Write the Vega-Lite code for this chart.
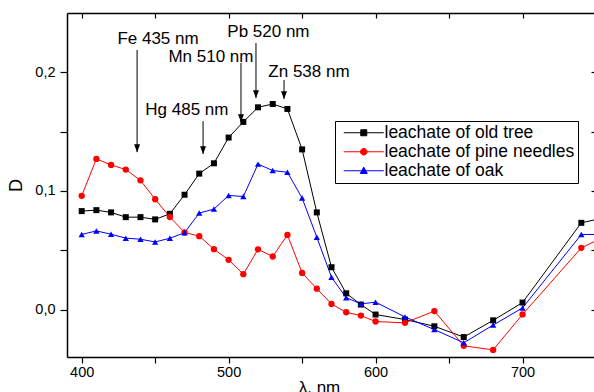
{
  "$schema": "https://vega.github.io/schema/vega-lite/v6.json",
  "width": 529,
  "height": 344,
  "autosize": {"type": "none"},
  "padding": {"left": 67, "top": 13, "right": 0, "bottom": 35},
  "background": "white",
  "config": {
    "view": {"stroke": null},
    "font": "Liberation Sans",
    "axis": {"grid": false, "domainColor": "black", "tickColor": "black", "labelColor": "black", "titleColor": "black", "labelFont": "Liberation Sans", "titleFont": "Liberation Sans", "titleFontWeight": "normal", "domainWidth": 1.5, "tickWidth": 1.2}
  },
  "datasets": {
    "spectra": [
      {"series": "leachate of old tree", "nm": 400, "D": 0.0830},
      {"series": "leachate of old tree", "nm": 410, "D": 0.0838},
      {"series": "leachate of old tree", "nm": 420, "D": 0.0819},
      {"series": "leachate of old tree", "nm": 430, "D": 0.0779},
      {"series": "leachate of old tree", "nm": 440, "D": 0.0779},
      {"series": "leachate of old tree", "nm": 450, "D": 0.0760},
      {"series": "leachate of old tree", "nm": 460, "D": 0.0807},
      {"series": "leachate of old tree", "nm": 470, "D": 0.0968},
      {"series": "leachate of old tree", "nm": 480, "D": 0.1146},
      {"series": "leachate of old tree", "nm": 490, "D": 0.1233},
      {"series": "leachate of old tree", "nm": 500, "D": 0.1450},
      {"series": "leachate of old tree", "nm": 510, "D": 0.1582},
      {"series": "leachate of old tree", "nm": 520, "D": 0.1705},
      {"series": "leachate of old tree", "nm": 530, "D": 0.1733},
      {"series": "leachate of old tree", "nm": 540, "D": 0.1691},
      {"series": "leachate of old tree", "nm": 550, "D": 0.1350},
      {"series": "leachate of old tree", "nm": 560, "D": 0.0819},
      {"series": "leachate of old tree", "nm": 570, "D": 0.0357},
      {"series": "leachate of old tree", "nm": 580, "D": 0.0137},
      {"series": "leachate of old tree", "nm": 590, "D": 0.0042},
      {"series": "leachate of old tree", "nm": 600, "D": -0.0042},
      {"series": "leachate of old tree", "nm": 620, "D": -0.0084},
      {"series": "leachate of old tree", "nm": 640, "D": -0.0141},
      {"series": "leachate of old tree", "nm": 660, "D": -0.0232},
      {"series": "leachate of old tree", "nm": 680, "D": -0.0091},
      {"series": "leachate of old tree", "nm": 700, "D": 0.0059},
      {"series": "leachate of old tree", "nm": 740, "D": 0.0731},
      {"series": "leachate of old tree", "nm": 760, "D": 0.0786},
      {"series": "leachate of pine needles", "nm": 400, "D": 0.0959},
      {"series": "leachate of pine needles", "nm": 410, "D": 0.1270},
      {"series": "leachate of pine needles", "nm": 420, "D": 0.1219},
      {"series": "leachate of pine needles", "nm": 430, "D": 0.1180},
      {"series": "leachate of pine needles", "nm": 440, "D": 0.1089},
      {"series": "leachate of pine needles", "nm": 450, "D": 0.0930},
      {"series": "leachate of pine needles", "nm": 460, "D": 0.0780},
      {"series": "leachate of pine needles", "nm": 470, "D": 0.0650},
      {"series": "leachate of pine needles", "nm": 480, "D": 0.0619},
      {"series": "leachate of pine needles", "nm": 490, "D": 0.0509},
      {"series": "leachate of pine needles", "nm": 500, "D": 0.0419},
      {"series": "leachate of pine needles", "nm": 510, "D": 0.0298},
      {"series": "leachate of pine needles", "nm": 520, "D": 0.0508},
      {"series": "leachate of pine needles", "nm": 530, "D": 0.0447},
      {"series": "leachate of pine needles", "nm": 540, "D": 0.0629},
      {"series": "leachate of pine needles", "nm": 550, "D": 0.0309},
      {"series": "leachate of pine needles", "nm": 560, "D": 0.0176},
      {"series": "leachate of pine needles", "nm": 570, "D": 0.0047},
      {"series": "leachate of pine needles", "nm": 580, "D": -0.0023},
      {"series": "leachate of pine needles", "nm": 590, "D": -0.0051},
      {"series": "leachate of pine needles", "nm": 600, "D": -0.0101},
      {"series": "leachate of pine needles", "nm": 620, "D": -0.0112},
      {"series": "leachate of pine needles", "nm": 640, "D": -0.0013},
      {"series": "leachate of pine needles", "nm": 660, "D": -0.0306},
      {"series": "leachate of pine needles", "nm": 680, "D": -0.0340},
      {"series": "leachate of pine needles", "nm": 700, "D": -0.0041},
      {"series": "leachate of pine needles", "nm": 740, "D": 0.0520},
      {"series": "leachate of pine needles", "nm": 760, "D": 0.0640},
      {"series": "leachate of oak", "nm": 400, "D": 0.0633},
      {"series": "leachate of oak", "nm": 410, "D": 0.0663},
      {"series": "leachate of oak", "nm": 420, "D": 0.0635},
      {"series": "leachate of oak", "nm": 430, "D": 0.0602},
      {"series": "leachate of oak", "nm": 440, "D": 0.0593},
      {"series": "leachate of oak", "nm": 450, "D": 0.0570},
      {"series": "leachate of oak", "nm": 460, "D": 0.0601},
      {"series": "leachate of oak", "nm": 470, "D": 0.0648},
      {"series": "leachate of oak", "nm": 480, "D": 0.0813},
      {"series": "leachate of oak", "nm": 490, "D": 0.0847},
      {"series": "leachate of oak", "nm": 500, "D": 0.0962},
      {"series": "leachate of oak", "nm": 510, "D": 0.0953},
      {"series": "leachate of oak", "nm": 520, "D": 0.1226},
      {"series": "leachate of oak", "nm": 530, "D": 0.1172},
      {"series": "leachate of oak", "nm": 540, "D": 0.1157},
      {"series": "leachate of oak", "nm": 550, "D": 0.0940},
      {"series": "leachate of oak", "nm": 560, "D": 0.0610},
      {"series": "leachate of oak", "nm": 570, "D": 0.0272},
      {"series": "leachate of oak", "nm": 580, "D": 0.0100},
      {"series": "leachate of oak", "nm": 590, "D": 0.0048},
      {"series": "leachate of oak", "nm": 600, "D": 0.0062},
      {"series": "leachate of oak", "nm": 620, "D": -0.0062},
      {"series": "leachate of oak", "nm": 640, "D": -0.0169},
      {"series": "leachate of oak", "nm": 660, "D": -0.0280},
      {"series": "leachate of oak", "nm": 680, "D": -0.0131},
      {"series": "leachate of oak", "nm": 700, "D": 0.0014},
      {"series": "leachate of oak", "nm": 740, "D": 0.0633},
      {"series": "leachate of oak", "nm": 760, "D": 0.0633}
    ],
    "arrows": [
      {"label": "Fe 435 nm", "nm": 437.7, "D": 0.2188, "D2": 0.1327},
      {"label": "Hg 485 nm", "nm": 482.6, "D": 0.1589, "D2": 0.1311},
      {"label": "Mn 510 nm", "nm": 508.4, "D": 0.2078, "D2": 0.1581},
      {"label": "Pb 520 nm", "nm": 518.6, "D": 0.2247, "D2": 0.1783},
      {"label": "Zn 538 nm", "nm": 537.7, "D": 0.1935, "D2": 0.1775}
    ],
    "labels": [
      {"label": "Fe 435 nm", "nm": 424.3, "D": 0.2241},
      {"label": "Hg 485 nm", "nm": 443.3, "D": 0.1639},
      {"label": "Mn 510 nm", "nm": 459.0, "D": 0.2089},
      {"label": "Pb 520 nm", "nm": 499.1, "D": 0.2300},
      {"label": "Zn 538 nm", "nm": 527.0, "D": 0.1963}
    ]
  },
  "layer": [
    {
      "data": {"name": "spectra"},
      "mark": {"type": "line", "strokeWidth": 1, "clip": true},
      "encoding": {
        "x": {"field": "nm", "type": "quantitative", "scale": {"domain": [390, 750], "nice": false, "zero": false},
          "axis": {"orient": "bottom", "title": "λ, nm", "values": [400, 450, 500, 550, 600, 650, 700, 750], "format": "d", "labelExpr": "datum.value % 100 == 0 ? datum.label : ''", "tickSize": 6, "labelFontSize": 14.5, "labelPadding": 2, "titleFontSize": 17, "titlePadding": 1, "titleX": 252}},
        "y": {"field": "D", "type": "quantitative", "scale": {"domain": [-0.04, 0.25], "nice": false, "zero": false},
          "axis": {"orient": "left", "title": "D", "values": [0, 0.05, 0.1, 0.15, 0.2], "labelExpr": "round(datum.value * 20) % 2 == 0 ? replace(format(datum.value, '.1f'), '.', ',') : ''", "tickSize": 7, "labelFontSize": 14.5, "labelPadding": 5, "titleFontSize": 18, "titlePadding": 9}},
        "color": {"field": "series", "type": "nominal",
          "scale": {"domain": ["leachate of old tree", "leachate of pine needles", "leachate of oak"], "range": ["#000000", "#ff0000", "#0000ff"]},
          "legend": {"orient": "none", "legendX": 268, "legendY": 108, "title": null, "strokeColor": "black", "padding": 3, "labelFont": "Liberation Sans", "labelFontSize": 17.5, "labelColor": "black", "labelLimit": 400, "rowPadding": 0, "symbolSize": 36, "labelOffset": 29, "symbolStrokeWidth": 1, "symbolOpacity": 1,
            "encode": {"symbols": {"update": {
              "shape": {"signal": "datum.value == 'leachate of old tree' ? 'M-1,0H12.33M4.67,-1H6.67V1H4.67Z' : datum.value == 'leachate of pine needles' ? 'M-1,0H12.33M4.57,0A1.1,1.1 0 1,0 6.77,0A1.1,1.1 0 1,0 4.57,0Z' : 'M-1,0H12.33M4.5,0.9L6.83,0.9L5.67,-1.2Z'"}
            }}}}
        }
      }
    },
    {
      "data": {"name": "spectra"},
      "transform": [{"filter": "datum.series == 'leachate of old tree'"}],
      "mark": {"type": "point", "filled": true, "opacity": 1, "clip": true, "shape": "square", "size": 36},
      "encoding": {
        "x": {"field": "nm", "type": "quantitative", "axis": {"orient": "top", "title": null, "labels": false, "values": [400, 450, 500, 550, 600, 650, 700, 750], "tickSize": -5}},
        "y": {"field": "D", "type": "quantitative", "axis": {"orient": "right", "title": null, "labels": false, "values": [0, 0.05, 0.1, 0.15, 0.2], "tickSize": -5}},
        "color": {"field": "series", "type": "nominal"}
      }
    },
    {
      "data": {"name": "spectra"},
      "transform": [{"filter": "datum.series == 'leachate of pine needles'"}],
      "mark": {"type": "point", "filled": true, "opacity": 1, "clip": true, "shape": "circle", "size": 40},
      "encoding": {
        "x": {"field": "nm", "type": "quantitative", "axis": null},
        "y": {"field": "D", "type": "quantitative", "axis": null},
        "color": {"field": "series", "type": "nominal"}
      }
    },
    {
      "data": {"name": "spectra"},
      "transform": [{"filter": "datum.series == 'leachate of oak'"}],
      "mark": {"type": "point", "filled": true, "opacity": 1, "clip": true, "shape": "triangle-up", "size": 40},
      "encoding": {
        "x": {"field": "nm", "type": "quantitative", "axis": null},
        "y": {"field": "D", "type": "quantitative", "axis": null},
        "color": {"field": "series", "type": "nominal"}
      }
    },
    {
      "data": {"name": "arrows"},
      "mark": {"type": "rule", "color": "black", "strokeWidth": 1},
      "encoding": {
        "x": {"field": "nm", "type": "quantitative", "axis": null},
        "y": {"field": "D", "type": "quantitative", "axis": null},
        "y2": {"field": "D2"}
      }
    },
    {
      "data": {"name": "arrows"},
      "mark": {"type": "point", "filled": true, "color": "black", "opacity": 1, "shape": "M-1,-2.6L1,-2.6L0,0Z", "size": 36},
      "encoding": {
        "x": {"field": "nm", "type": "quantitative", "axis": null},
        "y": {"field": "D2", "type": "quantitative", "axis": null}
      }
    },
    {
      "data": {"name": "labels"},
      "mark": {"type": "text", "align": "left", "baseline": "alphabetic", "font": "Liberation Sans", "fontSize": 17, "color": "black"},
      "encoding": {
        "x": {"field": "nm", "type": "quantitative", "axis": null},
        "y": {"field": "D", "type": "quantitative", "axis": null},
        "text": {"field": "label"}
      }
    }
  ],
  "resolve": {"axis": {"x": "independent", "y": "independent"}}
}
